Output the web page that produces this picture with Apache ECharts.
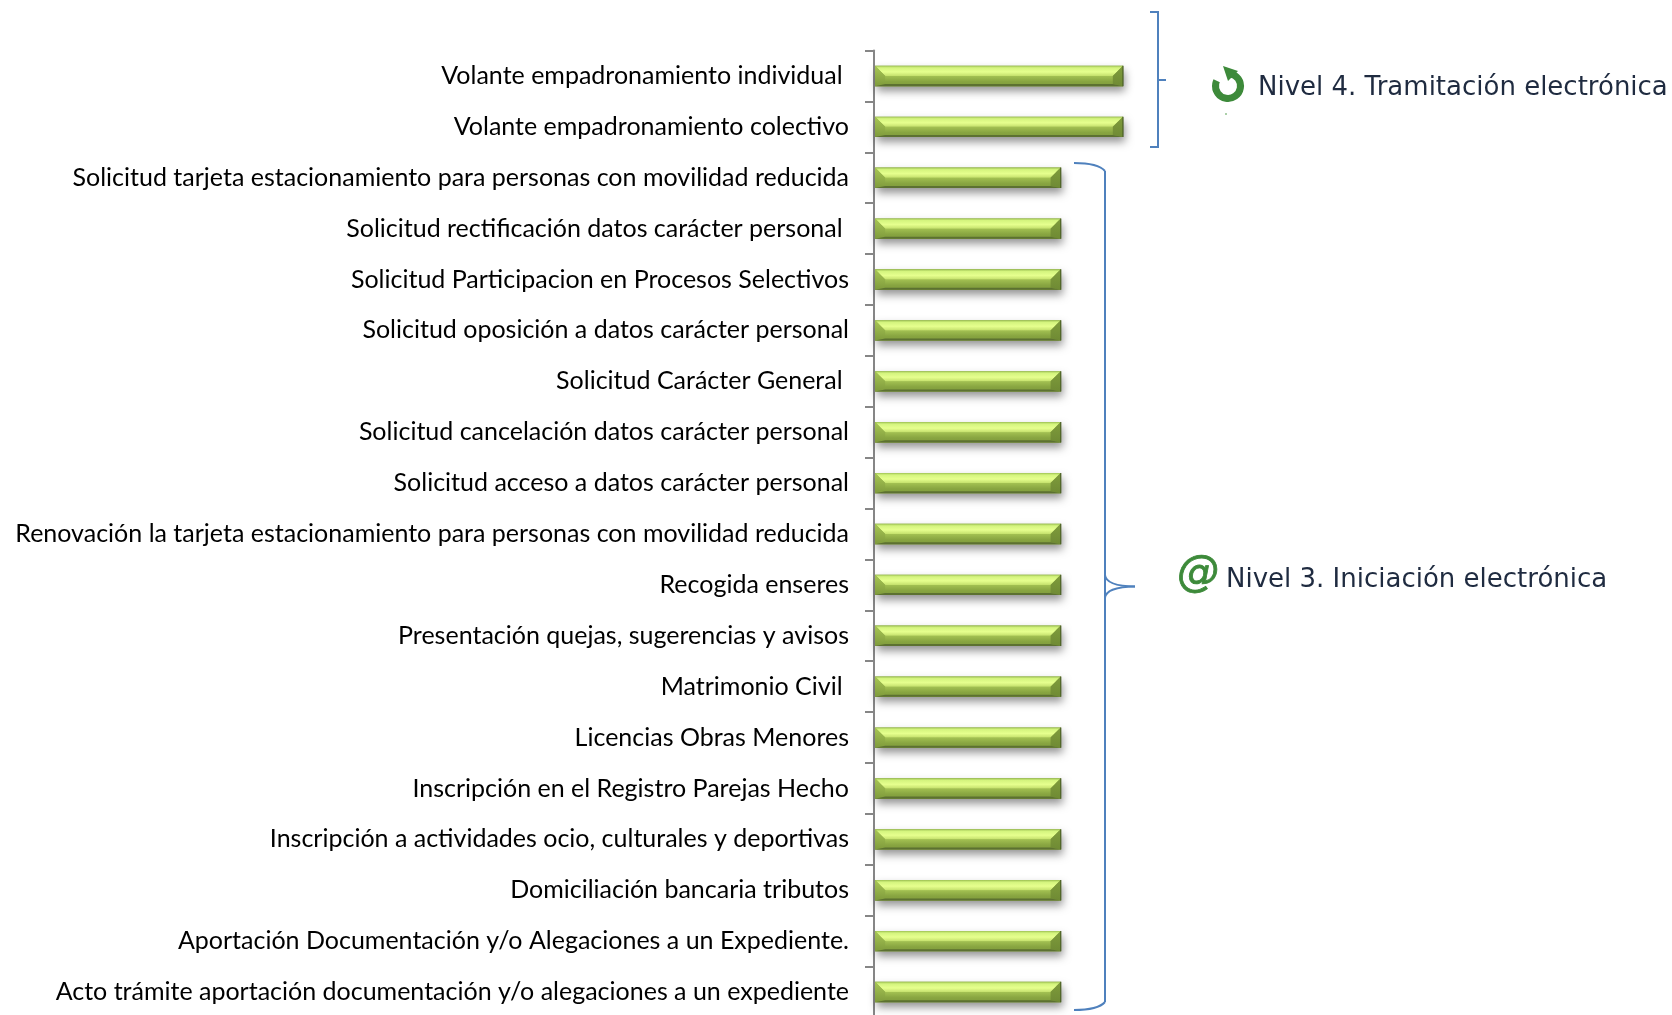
<!DOCTYPE html>
<html>
<head>
<meta charset="utf-8">
<script src="https://cdn.jsdelivr.net/npm/echarts@6/dist/echarts.min.js"></script>
<style>
  html, body { margin: 0; padding: 0; background: #fff; overflow: hidden; }
  #chart { width: 1672px; height: 1015px; }
</style>
</head>
<body>
<div id="chart"></div>
<script>
const categories = [
  "Volante empadronamiento individual ",
  "Volante empadronamiento colectivo",
  "Solicitud tarjeta estacionamiento para personas con movilidad reducida",
  "Solicitud rectificación datos carácter personal ",
  "Solicitud Participacion en Procesos Selectivos",
  "Solicitud oposición a datos carácter personal",
  "Solicitud Carácter General ",
  "Solicitud cancelación datos carácter personal",
  "Solicitud acceso a datos carácter personal",
  "Renovación la tarjeta estacionamiento para personas con movilidad reducida",
  "Recogida enseres",
  "Presentación quejas, sugerencias y avisos",
  "Matrimonio Civil ",
  "Licencias Obras Menores",
  "Inscripción en el Registro Parejas Hecho",
  "Inscripción a actividades ocio, culturales y deportivas",
  "Domiciliación bancaria tributos",
  "Aportación Documentación y/o Alegaciones a un Expediente.",
  "Acto trámite aportación documentación y/o alegaciones a un expediente",
];
// nivel de tramitación de cada servicio
const levels = [4, 4, 3, 3, 3, 3, 3, 3, 3, 3, 3, 3, 3, 3, 3, 3, 3, 3, 3];

const level4Label = "Nivel 4. Tramitación electrónica";
const level3Label = "Nivel 3. Iniciación electrónica";

const chart = echarts.init(document.getElementById("chart"), null, { renderer: "canvas" });

const vGrad = (stops) => new echarts.graphic.LinearGradient(0, 0, 0, 1, stops);

// barra biselada, como el estilo 3D de Excel
const renderBar = (params, api) => {
  const start = api.coord([0, api.value(1)]);
  const end = api.coord([api.value(0), api.value(1)]);
  const h = api.size([0, 1])[1] * 0.4;
  const x0 = start[0] + 1;
  const x1 = end[0];
  const y0 = start[1] - h / 2;
  const y1 = start[1] + h / 2;
  const b = h * 0.5;
  const inset = h * 0.1;
  const poly = (points, fill) => ({ type: "polygon", shape: { points }, style: { fill } });
  return {
    type: "group",
    children: [
      {
        type: "rect",
        shape: { x: x0, y: y0, width: x1 - x0, height: y1 - y0 },
        style: { fill: "#8aa643", shadowBlur: 8, shadowOffsetX: 2, shadowOffsetY: 5, shadowColor: "rgba(0,0,0,0.42)" },
      },
      poly([[x0, y0 + b], [x1, y0 + b], [x1, y1], [x0, y1]],
        vGrad([{ offset: 0, color: "#a3c152" }, { offset: 0.55, color: "#88a541" }, { offset: 1, color: "#7f9b3c" }])),
      poly([[x0, y0], [x1, y0], [x1 - b, y0 + b], [x0 + b, y0 + b]],
        vGrad([{ offset: 0, color: "#9cc052" }, { offset: 0.2, color: "#d4f47e" }, { offset: 0.6, color: "#e6ff8e" }, { offset: 1, color: "#c4e06c" }])),
      poly([[x0, y0], [x0 + b, y0 + b], [x0 + b, y1 - inset], [x0, y1]],
        vGrad([{ offset: 0, color: "#a8c655" }, { offset: 1, color: "#7f9b3c" }])),
      poly([[x1, y0], [x1 - b, y0 + b], [x1 - b, y1 - inset], [x1, y1]],
        vGrad([{ offset: 0, color: "#7f9c3c" }, { offset: 1, color: "#6f8a34" }])),
      poly([[x0, y1], [x0 + b, y1 - inset], [x1 - b, y1 - inset], [x1, y1]], "#5c7131"),
      { type: "line", shape: { x1: x1, y1: y0, x2: x1, y2: y1 }, style: { stroke: "#4a5e26", lineWidth: 1.2 } },
    ],
  };
};

const bracketStyle = { fill: null, stroke: "#4f81bd", lineWidth: 2 };
const stroke = (points) => ({ type: "polyline", shape: { points }, style: bracketStyle, silent: true });
const curve = (x1, y1, cpx1, cpy1, x2, y2) => ({
  type: "bezierCurve",
  shape: { x1, y1, cpx1, cpy1, x2, y2 },
  style: bracketStyle,
  silent: true,
});

chart.setOption({
  backgroundColor: "#fff",
  animation: false,
  grid: { left: 874, top: 50.5, width: 249, height: 967, outerBoundsMode: "none" },
  xAxis: { type: "value", min: 0, max: 4, show: false },
  yAxis: {
    type: "category",
    inverse: true,
    data: categories,
    axisLine: { show: true, lineStyle: { color: "#868686", width: 2 } },
    axisTick: { show: true, length: 9, lineStyle: { color: "#868686", width: 2 } },
    axisLabel: {
      interval: 0,
      margin: 25,
      color: "#000",
      fontFamily: "Lato",
      fontSize: 25,
    },
  },
  series: [
    {
      type: "custom",
      renderItem: renderBar,
      encode: { x: 0, y: 1 },
      data: levels.map((v, i) => [v, i]),
      clip: false,
    },
  ],
  graphic: [
    // llave nivel 4
    stroke([[1150, 12], [1158, 12], [1158, 147], [1150, 147]]),
    stroke([[1158, 80], [1166, 80]]),
    // llave nivel 3
    curve(1074, 163, 1098, 163, 1105, 171),
    stroke([[1105, 171], [1105, 1002]]),
    curve(1105, 1002, 1098, 1010, 1074, 1010),
    curve(1105, 575, 1106, 586, 1135, 586.5),
    curve(1105, 598, 1106, 587, 1135, 586.5),
    // icono nivel 4: flecha circular
    {
      type: "arc",
      shape: { cx: 1228, cy: 86, r: 12.5, startAngle: -80 * Math.PI / 180, endAngle: -155 * Math.PI / 180, clockwise: true },
      style: { fill: null, stroke: "#3d8a3a", lineWidth: 7 },
      silent: true,
    },
    {
      type: "polygon",
      shape: { points: [[1223, 66], [1238, 71], [1228, 81]] },
      style: { fill: "#3d8a3a" },
      silent: true,
    },
    {
      type: "circle",
      shape: { cx: 1226, cy: 114, r: 1 },
      style: { fill: "#8fc08c" },
      silent: true,
    },
    {
      type: "text",
      x: 1258, y: 88,
      style: { text: level4Label, fill: "#1f2b40", font: "26px 'DejaVu Sans'", verticalAlign: "middle" },
      silent: true,
    },
    {
      type: "text",
      x: 1198, y: 575,
      style: { text: "@", fill: "#3d8a3a", stroke: "#3d8a3a", lineWidth: 0.8, font: "italic 42px 'DejaVu Sans'", align: "center", verticalAlign: "middle" },
      silent: true,
    },
    {
      type: "text",
      x: 1226, y: 580,
      style: { text: level3Label, fill: "#1f2b40", font: "26px 'DejaVu Sans'", verticalAlign: "middle" },
      silent: true,
    },
  ],
});
</script>
</body>
</html>
